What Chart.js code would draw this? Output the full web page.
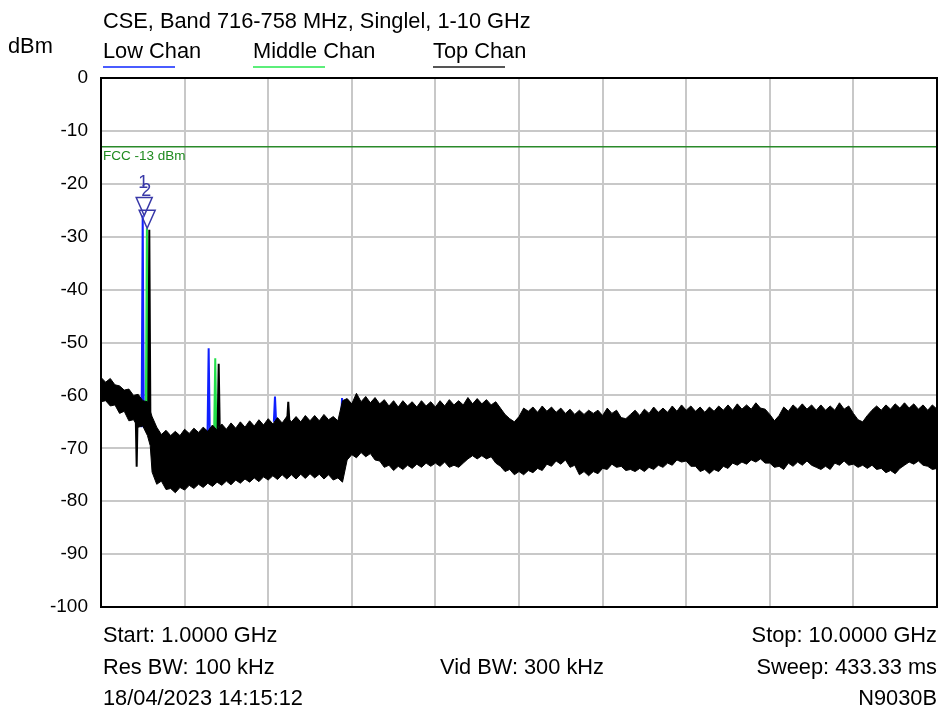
<!DOCTYPE html>
<html>
<head>
<meta charset="utf-8">
<script src="https://cdn.jsdelivr.net/npm/chart.js@4.4.0/dist/chart.umd.min.js"></script>
<style>
  body { margin: 0; background: #fff; }
  #wrap { position: relative; width: 939px; height: 710px; font-family: "Liberation Sans", Arial, sans-serif; color: #000; }
  #wrap canvas { position: absolute; left: 0; top: 0; }
  .txt { position: absolute; font-size: 21.8px; white-space: nowrap; line-height: 1; }
  .r { text-align: right; }
  .uline { position: absolute; height: 2px; width: 72px; }
</style>
</head>
<body>
<div id="wrap">
  <canvas id="spectrum" width="939" height="710"></canvas>
  <div class="txt" style="left:103px; top:10px;">CSE, Band 716-758 MHz, Singlel, 1-10 GHz</div>
  <div class="txt" style="left:8px; top:35px;">dBm</div>
  <div class="txt" style="left:103px; top:40px;">Low Chan</div>
  <div class="uline" style="left:103px; top:66px; background:#4a5cff;"></div>
  <div class="txt" style="left:253px; top:40px;">Middle Chan</div>
  <div class="uline" style="left:253px; top:66px; background:#5cee7a;"></div>
  <div class="txt" style="left:433px; top:40px;">Top Chan</div>
  <div class="uline" style="left:433px; top:66px; background:#555;"></div>
  <div class="txt" style="left:103px; top:624px;">Start: 1.0000 GHz</div>
  <div class="txt r" style="right:2px; top:624px;">Stop: 10.0000 GHz</div>
  <div class="txt" style="left:103px; top:656px;">Res BW: 100 kHz</div>
  <div class="txt" style="left:440px; top:656px;">Vid BW: 300 kHz</div>
  <div class="txt r" style="right:2px; top:656px;">Sweep: 433.33 ms</div>
  <div class="txt" style="left:103px; top:687px;">18/04/2023 14:15:12</div>
  <div class="txt r" style="right:2px; top:687px;">N9030B</div>
</div>
<script>
// frequency points (GHz) and the upper / lower edge of the noise band (dBm)
const freqGHz = [
  1.00, 1.05, 1.10, 1.15, 1.20, 1.25, 1.30, 1.35, 1.40, 1.45, 1.50, 1.53, 1.55, 1.60, 1.65, 1.70, 1.75, 1.80, 1.85, 1.90, 1.95,
  2.00, 2.05, 2.10, 2.15, 2.20, 2.25, 2.30, 2.35, 2.40, 2.45, 2.50, 2.55, 2.60, 2.65, 2.70, 2.75, 2.80, 2.85, 2.90, 2.95,
  3.00, 3.05, 3.10, 3.15, 3.20, 3.25, 3.30, 3.35, 3.40, 3.45, 3.50, 3.55, 3.60, 3.65, 3.70, 3.75, 3.80, 3.85, 3.90, 3.95,
  4.00, 4.05, 4.10, 4.15, 4.20, 4.25, 4.30, 4.35, 4.40, 4.45, 4.50, 4.55, 4.60, 4.65, 4.70, 4.75, 4.80, 4.85, 4.90, 4.95,
  5.00, 5.05, 5.10, 5.15, 5.20, 5.25, 5.30, 5.35, 5.40, 5.45, 5.50, 5.55, 5.60, 5.65, 5.70, 5.75, 5.80, 5.85, 5.90, 5.95,
  6.00, 6.05, 6.10, 6.15, 6.20, 6.25, 6.30, 6.35, 6.40, 6.45, 6.50, 6.55, 6.60, 6.65, 6.70, 6.75, 6.80, 6.85, 6.90, 6.95,
  7.00, 7.05, 7.10, 7.15, 7.20, 7.25, 7.30, 7.35, 7.40, 7.45, 7.50, 7.55, 7.60, 7.65, 7.70, 7.75, 7.80, 7.85, 7.90, 7.95,
  8.00, 8.05, 8.10, 8.15, 8.20, 8.25, 8.30, 8.35, 8.40, 8.45, 8.50, 8.55, 8.60, 8.65, 8.70, 8.75, 8.80, 8.85, 8.90, 8.95,
  9.00, 9.05, 9.10, 9.15, 9.20, 9.25, 9.30, 9.35, 9.40, 9.45, 9.50, 9.55, 9.60, 9.65, 9.70, 9.75, 9.80, 9.85, 9.90, 9.95,
  10.00
];
const bandHigh = [
  -56.6, -57.5, -56.8, -58.0, -58.2, -59.0, -58.8, -60.0, -59.8, -61.0, -61.2, -63.0, -64.0, -66.0, -67.4, -66.6, -67.6, -66.8, -67.6, -66.4, -67.2,
  -66.2, -67.0, -66.0, -66.8, -65.6, -66.6, -65.4, -66.4, -65.2, -66.2, -65.0, -66.0, -64.8, -65.8, -64.6, -65.6, -64.4, -65.4, -64.2, -65.2,
  -64.0, -65.0, -64.0, -65.0, -63.8, -64.8, -63.8, -64.8, -63.6, -64.6, -64.0, -64.8, -61.0, -60.6, -61.6, -59.6, -61.2, -60.2, -61.4, -60.4,
  -61.6, -60.8, -62.0, -61.0, -62.2, -61.0, -62.0, -61.2, -62.2, -61.0, -62.0, -61.2, -62.2, -61.0, -62.0, -60.8, -61.8, -61.0, -61.8, -60.4,
  -61.6, -60.6, -61.6, -60.8, -61.8, -61.2, -62.4, -63.6, -64.4, -65.0, -64.0, -62.4, -63.0, -62.2, -63.2, -62.0, -63.0, -62.2, -63.2, -62.4,
  -63.4, -62.6, -63.6, -62.8, -63.6, -62.8, -63.4, -62.8, -63.8, -62.4, -63.4, -62.8, -64.2, -64.4, -63.6, -62.8, -63.8, -62.6, -63.4, -62.2,
  -63.2, -62.4, -63.2, -62.0, -63.0, -61.8, -62.8, -62.0, -63.0, -62.2, -63.2, -62.2, -63.0, -62.0, -62.8, -61.8, -62.8, -61.6, -62.6, -61.8,
  -62.6, -61.4, -62.4, -62.6, -63.6, -64.8, -63.8, -62.2, -63.0, -61.8, -62.6, -61.6, -62.6, -61.8, -62.8, -61.8, -62.8, -62.0, -62.8, -61.4,
  -62.6, -62.0, -63.4, -64.6, -65.0, -63.8, -62.8, -62.0, -62.8, -61.8, -62.6, -61.6, -62.4, -61.4, -62.4, -61.6, -62.6, -61.8, -62.8, -61.8,
  -62.6
];
const bandLow = [
  -61.2, -61.0, -62.0, -61.8, -63.4, -63.0, -64.8, -64.6, -66.0, -65.8, -67.6, -69.5, -74.5, -76.8, -76.2, -77.8, -77.6, -78.4, -77.4, -77.9, -77.0,
  -77.6, -76.8, -77.4, -76.6, -77.2, -76.4, -77.0, -76.2, -76.9, -76.0, -76.6, -75.8, -76.4, -75.6, -76.3, -75.4, -76.0, -75.2, -75.9, -75.0,
  -75.8, -75.0, -75.8, -74.9, -75.7, -74.8, -75.6, -74.9, -75.8, -75.0, -76.0, -75.6, -76.4, -72.2, -71.2, -71.8, -70.8, -71.6, -71.0, -72.2,
  -72.4, -73.6, -73.2, -74.2, -73.4, -74.0, -73.2, -73.8, -73.0, -73.6, -72.8, -73.4, -72.8, -73.4, -72.6, -73.6, -73.2, -73.6, -72.8, -72.0,
  -71.4, -72.0, -71.4, -72.0, -71.6, -72.8, -73.4, -74.4, -74.0, -75.0, -74.4, -75.0, -74.2, -74.6, -73.8, -74.2, -73.0, -73.4, -72.4, -73.0,
  -72.2, -73.6, -73.2, -75.0, -74.4, -75.2, -74.4, -74.8, -73.8, -74.0, -73.0, -73.6, -73.4, -74.2, -74.0, -74.4, -73.8, -74.4, -73.6, -74.0,
  -73.2, -73.6, -72.8, -73.2, -72.2, -72.6, -72.4, -73.4, -73.4, -74.4, -74.0, -74.8, -74.0, -74.4, -73.4, -73.8, -72.8, -73.2, -72.6, -73.0,
  -72.2, -72.6, -72.0, -72.8, -72.8, -73.6, -73.4, -74.0, -72.8, -73.4, -72.6, -73.2, -72.4, -73.2, -73.6, -74.0, -73.4, -74.0, -72.8, -73.2,
  -72.4, -73.2, -73.0, -73.6, -73.2, -73.8, -73.2, -74.0, -73.8, -74.6, -74.2, -74.8, -73.8, -73.2, -72.6, -73.0, -72.4, -73.2, -73.4, -74.0,
  -73.8
];

// narrow spurs standing out of the noise: frequency (GHz), peak and foot (dBm)
const lowSpurFreq = [1.449, 2.159, 2.873, 3.595];
const lowSpurPeak = [-26.0, -51.1, -60.2, -60.5];
const lowSpurFoot = [-66.0, -67.0, -65.0, -66.0];

const midSpurFreq = [1.494, 2.230];
const midSpurPeak = [-28.4, -53.0];
const midSpurFoot = [-66.0, -67.0];

const topSpurFreq = [1.384, 1.520, 2.267, 3.016];
const topSpurPeak = [-73.5, -28.7, -54.0, -61.2];
const topSpurFoot = [-62.0, -66.0, -67.0, -65.0];

// limit line and markers
const limitDbm = -13;
const markerFreq = [1.465, 1.497];
const markerDbm = [-26.0, -28.4];
const markerLabel = ["1", "2"];

const yTicks = [0, -10, -20, -30, -40, -50, -60, -70, -80, -90, -100];

const spurData = (freqs, peaks, foots) => {
  const pts = [];
  freqs.forEach((f, i) => {
    pts.push({ x: f - 0.012, y: foots[i] });
    pts.push({ x: f, y: peaks[i] });
    pts.push({ x: f + 0.012, y: foots[i] });
    pts.push({ x: f + 0.013, y: null });
  });
  return pts;
};

const lineDs = (label, data, color, width) => ({
  label: label,
  data: data,
  borderColor: color,
  borderWidth: width,
  pointRadius: 0,
  fill: false,
  spanGaps: false,
});

const bandHi = lineDs("Top Chan high", freqGHz.map((f, i) => ({ x: f, y: bandHigh[i] })), "#000", 1);
bandHi.fill = "+1";
bandHi.backgroundColor = "#000";
const bandLo = lineDs("Top Chan low", freqGHz.map((f, i) => ({ x: f, y: bandLow[i] })), "#000", 1);

const frame = {
  id: "frame",
  afterDatasetsDraw(chart) {
    const { ctx, chartArea: a, scales } = chart;
    ctx.save();
    // limit label
    ctx.fillStyle = "#1f8a1f";
    ctx.font = "13.5px 'Liberation Sans', Arial, sans-serif";
    ctx.textBaseline = "top";
    ctx.fillText("FCC -13 dBm", a.left + 2, scales.y.getPixelForValue(limitDbm) + 3);
    // markers
    ctx.strokeStyle = "#3838a8";
    ctx.fillStyle = "#3838a8";
    ctx.lineWidth = 1.5;
    ctx.font = "18px 'Liberation Sans', Arial, sans-serif";
    ctx.textAlign = "center";
    ctx.textBaseline = "alphabetic";
    markerFreq.forEach((f, i) => {
      const px = scales.x.getPixelForValue(f);
      const py = scales.y.getPixelForValue(markerDbm[i]);
      ctx.beginPath();
      ctx.moveTo(px, py);
      ctx.lineTo(px - 8, py - 18);
      ctx.lineTo(px + 8, py - 18);
      ctx.closePath();
      ctx.stroke();
      ctx.fillText(markerLabel[i], px - 1, py - 28 - i * 4);
    });
    ctx.strokeStyle = "#000";
    ctx.lineWidth = 2;
    ctx.strokeRect(a.left, a.top, a.right - a.left, a.bottom - a.top);
    ctx.restore();
  },
};

new Chart(document.getElementById("spectrum").getContext("2d"), {
  type: "line",
  data: {
    datasets: [
      lineDs("Top Chan spurs", spurData(topSpurFreq, topSpurPeak, topSpurFoot), "#000", 2),
      bandHi,
      bandLo,
      lineDs("Middle Chan spurs", spurData(midSpurFreq, midSpurPeak, midSpurFoot), "#22e04a", 2),
      lineDs("Low Chan spurs", spurData(lowSpurFreq, lowSpurPeak, lowSpurFoot), "#1020ff", 2),
      lineDs("FCC", [{ x: 1, y: limitDbm }, { x: 10, y: limitDbm }], "#2a8a2a", 1.5),
    ],
  },
  options: {
    responsive: false,
    animation: false,
    layout: { padding: { top: 78, right: 2, bottom: 103, left: 0 } },
    plugins: { legend: { display: false }, tooltip: { enabled: false } },
    scales: {
      x: {
        type: "linear",
        min: 1,
        max: 10,
        ticks: { display: false, stepSize: 0.9 },
        grid: { color: "#c8c8c8", lineWidth: 2, drawTicks: false },
        border: { display: false },
      },
      y: {
        min: -100,
        max: 0,
        afterFit: (scale) => { scale.width = 101; },
        afterBuildTicks: (scale) => { scale.ticks = yTicks.map((v) => ({ value: v })); },
        ticks: {
          color: "#000",
          padding: 13,
          font: { family: "'Liberation Sans', Arial, sans-serif", size: 19 },
        },
        grid: { color: "#c8c8c8", lineWidth: 2, drawTicks: false },
        border: { display: false },
      },
    },
  },
  plugins: [frame],
});
</script>
</body>
</html>
